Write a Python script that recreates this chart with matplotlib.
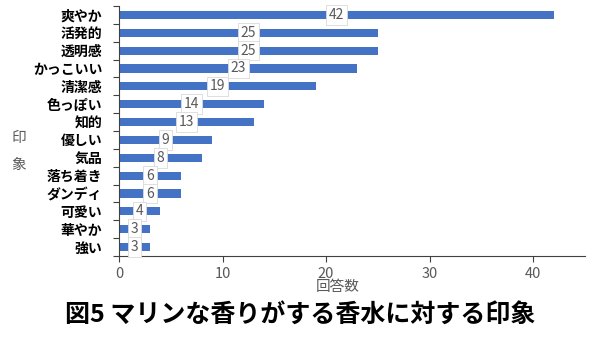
import matplotlib
matplotlib.use("Agg")
import matplotlib.pyplot as plt

plt.rcParams['font.family'] = ['Noto Sans CJK JP', 'DejaVu Sans']

categories = ["爽やか", "活発的", "透明感", "かっこいい", "清潔感", "色っぽい", "知的",
              "優しい", "気品", "落ち着き", "ダンディ", "可愛い", "華やか", "強い"]
values = [42, 25, 25, 23, 19, 14, 13, 9, 8, 6, 6, 4, 3, 3]
x_ticks = [0, 10, 20, 30, 40]

fig = plt.figure(figsize=(6, 3.37), dpi=100)
ax = fig.add_axes([119/600, 1-256/337, (585-119)/600, (256-6)/337])

ypos = list(range(len(categories)))
ax.barh(ypos, values, height=0.45, color="#4472C4")
ax.set_ylim(len(categories)-0.5, -0.5)
ax.set_xlim(0, 45)

for y, v in zip(ypos, values):
    ax.text(v/2, y, str(v), ha="center", va="center", fontsize=10, color="#595959",
            bbox=dict(boxstyle="square,pad=0.2", fc="white", ec="#D9D9D9", lw=0.6))

ax.set_yticks([y + 0.5 for y in ypos[:-1]] + [-0.5, len(categories)-0.5])
ax.set_yticklabels([])
ax.set_yticks(ypos, minor=True)
ax.set_yticklabels(categories, minor=True, fontsize=10, fontweight="bold", color="black")
ax.tick_params(axis="y", which="minor", length=0, pad=12)
ax.tick_params(axis="y", which="major", length=4, color="#404040")

ax.set_xticks(x_ticks)
ax.set_xticklabels([str(t) for t in x_ticks], fontsize=10.5, color="#595959")
ax.tick_params(axis="x", length=4, color="#404040", pad=4)

for s in ["top", "right"]:
    ax.spines[s].set_visible(False)
ax.spines["left"].set_color("#404040")
ax.spines["bottom"].set_color("#404040")

fig.text(338/600, 1-287/337, "回答数", ha="center", va="center", fontsize=10.5, color="#595959")
fig.text(19/600, 1-138/337, "印", ha="center", va="center", fontsize=10.5, color="#595959")
fig.text(19/600, 1-165/337, "象", ha="center", va="center", fontsize=10.5, color="#595959")
fig.text(300/600, 1-315/337, "図5 マリンな香りがする香水に対する印象", ha="center", va="center",
         fontsize=18, fontweight="bold", color="black")

fig.savefig("out.png", dpi=100, facecolor="white")
